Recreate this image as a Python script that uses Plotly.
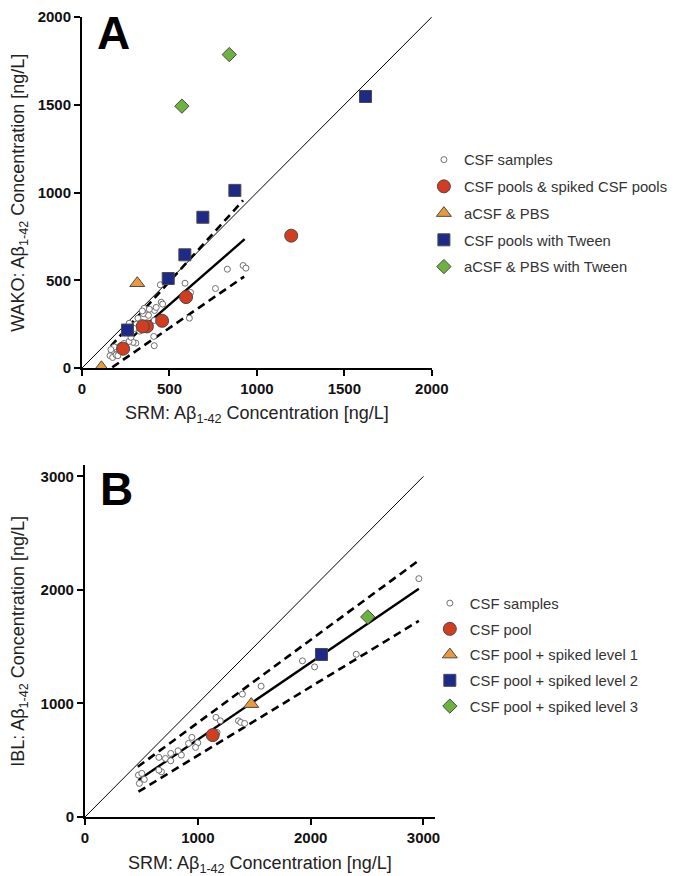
import plotly.graph_objects as go

# ---------------- Panel A data ----------------
a_samples_x = [921, 937, 831, 763, 621, 589, 614, 448, 453, 461, 415, 424, 372, 360, 365, 380, 355, 350,
               345, 385, 413, 311, 320, 308, 410, 413, 292, 268, 270, 225, 210, 200, 190, 180, 170, 160,
               175, 195, 215, 230, 240, 250, 185, 165, 205, 280, 300, 340, 330]
a_samples_y = [584, 569, 563, 453, 430, 483, 284, 474, 375, 364, 328, 345, 320, 330, 310, 300, 340, 310,
               325, 335, 271, 250, 284, 142, 180, 127, 146, 151, 255, 130, 120, 95, 110, 80, 95, 70,
               60, 75, 90, 105, 140, 120, 120, 105, 70, 175, 225, 260, 210]
a_pools_x = [1196, 595, 458, 371, 347, 235]
a_pools_y = [754, 404, 269, 237, 237, 110]
a_acsf_x = [316, 111]
a_acsf_y = [483, 4]
a_tween_x = [1621, 874, 691, 588, 493, 260]
a_tween_y = [1547, 1012, 859, 645, 510, 216]
a_acsf_tween_x = [842, 571]
a_acsf_tween_y = [1786, 1492]

a_fit_x = [165, 930]
a_fit_y = [70, 734]
a_upper_x = [165, 921]
a_upper_y = [125, 955]
a_lower_x = [173, 927]
a_lower_y = [4, 521]
a_ident = [0, 2000]

a_labels = ["CSF samples", "CSF pools &amp; spiked CSF pools", "aCSF &amp; PBS",
            "CSF pools with Tween", "aCSF &amp; PBS with Tween"]

# ---------------- Panel B data ----------------
b_samples_x = [2959, 2404, 1927, 2035, 1561, 1395, 1161, 1199, 1360, 1380, 1415, 1170, 947, 918,
               1000, 980, 825, 854, 760, 713, 760, 655, 678, 655, 474, 503, 526, 482]
b_samples_y = [2099, 1433, 1375, 1322, 1152, 1082, 877, 847, 847, 833, 824, 745, 701, 648,
               653, 613, 583, 545, 560, 516, 495, 525, 398, 413, 369, 384, 331, 296]
b_pool_x = [1132]
b_pool_y = [721]
b_lvl1_x = [1474]
b_lvl1_y = [994]
b_lvl2_x = [2096]
b_lvl2_y = [1431]
b_lvl3_x = [2506]
b_lvl3_y = [1762]

b_fit_x = [474, 2959]
b_fit_y = [325, 2011]
b_upper_x = [468, 2959]
b_upper_y = [442, 2260]
b_lower_x = [474, 2959]
b_lower_y = [223, 1727]
b_ident = [0, 3000]

b_labels = ["CSF samples", "CSF pool", "CSF pool + spiked level 1",
            "CSF pool + spiked level 2", "CSF pool + spiked level 3"]

a_ticks = [0, 500, 1000, 1500, 2000]
b_ticks = [0, 1000, 2000, 3000]

RED = "#d23c1f"
ORANGE = "#e99a3c"
NAVY = "#1e2a88"
GREEN = "#6cb23c"
EDGE = "#4a4a4a"

W, H = 673, 876
FONT = "Liberation Sans, Arial, sans-serif"

fig = go.Figure()


def add_points(x, y, name, symbol, color, size, xa, ya, legend, group, open_marker=False):
    if open_marker:
        marker = dict(symbol="circle", size=size, color="white", line=dict(color="#707070", width=1))
    else:
        marker = dict(symbol=symbol, size=size, color=color, line=dict(color=EDGE, width=1))
    fig.add_trace(go.Scatter(x=x, y=y, mode="markers", name=name, marker=marker,
                             xaxis=xa, yaxis=ya, legend=legend, legendgroup=group, showlegend=True))


def add_line(x, y, xa, ya, width, dash=None):
    fig.add_trace(go.Scatter(x=x, y=y, mode="lines", line=dict(color="black", width=width, dash=dash),
                             xaxis=xa, yaxis=ya, showlegend=False, hoverinfo="skip"))


DASH = "8px,5px"
# Panel A lines
add_line(a_ident, a_ident, "x", "y", 1)
add_line(a_fit_x, a_fit_y, "x", "y", 2.4)
add_line(a_upper_x, a_upper_y, "x", "y", 2.6, DASH)
add_line(a_lower_x, a_lower_y, "x", "y", 2.6, DASH)
# Panel A points
add_points(a_samples_x, a_samples_y, a_labels[0], "circle", "white", 6, "x", "y", "legend", "a1", True)
add_points(a_pools_x, a_pools_y, a_labels[1], "circle", RED, 13, "x", "y", "legend", "a2")
add_points(a_acsf_x, a_acsf_y, a_labels[2], "triangle-up", ORANGE, 13, "x", "y", "legend", "a3")
add_points(a_tween_x, a_tween_y, a_labels[3], "square", NAVY, 12, "x", "y", "legend", "a4")
add_points(a_acsf_tween_x, a_acsf_tween_y, a_labels[4], "diamond", GREEN, 11, "x", "y", "legend", "a5")

# Panel B lines
add_line(b_ident, b_ident, "x2", "y2", 1)
add_line(b_fit_x, b_fit_y, "x2", "y2", 2.4)
add_line(b_upper_x, b_upper_y, "x2", "y2", 2.6, DASH)
add_line(b_lower_x, b_lower_y, "x2", "y2", 2.6, DASH)
# Panel B points
add_points(b_samples_x, b_samples_y, b_labels[0], "circle", "white", 6, "x2", "y2", "legend2", "b1", True)
add_points(b_pool_x, b_pool_y, b_labels[1], "circle", RED, 13, "x2", "y2", "legend2", "b2")
add_points(b_lvl1_x, b_lvl1_y, b_labels[2], "triangle-up", ORANGE, 13, "x2", "y2", "legend2", "b3")
add_points(b_lvl2_x, b_lvl2_y, b_labels[3], "square", NAVY, 12, "x2", "y2", "legend2", "b4")
add_points(b_lvl3_x, b_lvl3_y, b_labels[4], "diamond", GREEN, 11, "x2", "y2", "legend2", "b5")

axis_common = dict(showgrid=False, zeroline=False, showline=True, linecolor="black", linewidth=2,
                   ticks="outside", ticklen=6, tickwidth=2, tickcolor="black", automargin=False,
                   tickfont=dict(family=FONT, size=15, color="#111", weight="bold"))

LEGEND_FONT = dict(family=FONT, size=14.8, color="#333")
fig.update_layout(
    width=W, height=H,
    margin=dict(l=0, r=0, t=0, b=0, pad=0),
    paper_bgcolor="white", plot_bgcolor="white",
    font=dict(family=FONT, color="#222"),
    xaxis=dict(domain=[83 / W, 437 / W], range=[0, 2000], tickvals=a_ticks, anchor="y", **axis_common),
    yaxis=dict(domain=[1 - 368 / H, 1 - 17 / H], range=[0, 2000], tickvals=a_ticks, anchor="x", **axis_common),
    xaxis2=dict(domain=[86 / W, 440 / W], range=[0, 3100], tickvals=b_ticks, anchor="y2", **axis_common),
    yaxis2=dict(domain=[1 - 817 / H, 1 - 465 / H], range=[0, 3100], tickvals=b_ticks, anchor="x2", **axis_common),
    legend=dict(x=429 / W, y=1 - 143.5 / H, xanchor="left", yanchor="top",
                font=LEGEND_FONT, tracegroupgap=4.5,
                bgcolor="rgba(0,0,0,0)", itemclick=False),
    legend2=dict(x=435 / W, y=1 - 587 / H, xanchor="left", yanchor="top",
                 font=LEGEND_FONT, tracegroupgap=3.5,
                 bgcolor="rgba(0,0,0,0)", itemclick=False),
    showlegend=True,
)

title_font = dict(family=FONT, size=18, color="#222")
ann = [
    dict(text="A", x=115 / W, y=1 - 33 / H, font=dict(family=FONT, size=46, color="black", weight="bold")),
    dict(text="B", x=118 / W, y=1 - 489 / H, font=dict(family=FONT, size=46, color="black", weight="bold")),
    dict(text="SRM: Aβ<sub>1-42</sub> Concentration [ng/L]", x=260 / W, y=1 - 414 / H, font=title_font),
    dict(text="SRM: Aβ<sub>1-42</sub> Concentration [ng/L]", x=263 / W, y=1 - 864 / H, font=title_font),
    dict(text="WAKO: Aβ<sub>1-42</sub> Concentration [ng/L]", x=19 / W, y=1 - 193 / H, textangle=-90, font=title_font),
    dict(text="IBL: Aβ<sub>1-42</sub> Concentration [ng/L]", x=19 / W, y=1 - 641 / H, textangle=-90, font=title_font),
]
for a in ann:
    a.update(xref="paper", yref="paper", showarrow=False, xanchor="center", yanchor="middle")
    fig.add_annotation(**a)

fig.write_html("out.html", config={"displayModeBar": False},
               post_script="document.body.style.margin='0';document.body.style.padding='0';"
                           "document.body.style.overflow='hidden';")
